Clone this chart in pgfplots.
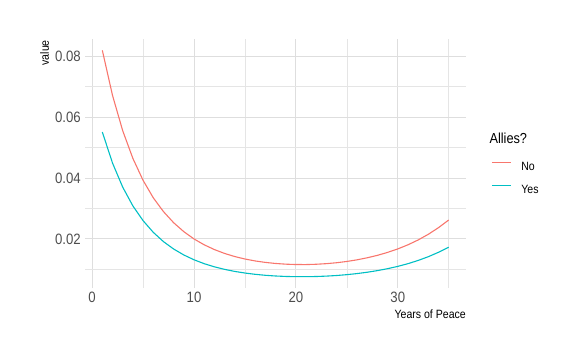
\documentclass[border=0pt]{standalone}
\usepackage{pgfplots}
\pgfplotsset{compat=1.18}
\usepackage{fontspec}
\setmainfont{Liberation Sans}[FakeStretch=0.88]
\definecolor{cNo}{HTML}{F8766D}
\definecolor{cYes}{HTML}{00BFC4}
\definecolor{tick}{HTML}{4D4D4D}
\pgfplotstableread{
t no yes
1 0.08189 0.05508
2 0.06710 0.04490
3 0.05552 0.03700
4 0.04642 0.03083
5 0.03923 0.02600
6 0.03351 0.02217
7 0.02897 0.01912
8 0.02532 0.01669
9 0.02238 0.01474
10 0.01999 0.01316
11 0.01807 0.01188
12 0.01651 0.01085
13 0.01524 0.01002
14 0.01422 0.00934
15 0.01341 0.00881
16 0.01278 0.00839
17 0.01230 0.00807
18 0.01195 0.00784
19 0.01172 0.00769
20 0.01160 0.00761
21 0.01159 0.00761
22 0.01169 0.00767
23 0.01189 0.00780
24 0.01219 0.00800
25 0.01261 0.00828
26 0.01314 0.00863
27 0.01381 0.00907
28 0.01461 0.00960
29 0.01558 0.01024
30 0.01672 0.01099
31 0.01807 0.01188
32 0.01966 0.01294
33 0.02152 0.01417
34 0.02370 0.01562
35 0.02621 0.01729
}\data
\begin{document}
\begin{tikzpicture}[x=1pt,y=1pt]
\useasboundingbox (0,0) rectangle (585,361);
\begin{axis}[
  at={(85pt,73pt)}, anchor=south west,
  scale only axis, width=381pt, height=249pt,
  xmin=-0.7, xmax=36.7, ymin=0.0039, ymax=0.0856,
  clip=false,
  axis line style={draw=none},
  major tick length=0pt, minor tick length=0pt,
  xtick={0,10,20,30}, minor xtick={5,15,25,35},
  ytick={0.02,0.04,0.06,0.08}, minor ytick={0.01,0.03,0.05,0.07},
  scaled y ticks=false,
  grid=both,
  major grid style={color=gray!26, line width=0.9pt},
  minor grid style={color=gray!20, line width=0.5pt},
  yticklabel style={/pgf/number format/fixed, /pgf/number format/precision=2, /pgf/number format/fixed zerofill},
  /pgf/number format/assume math mode=true,
  ticklabel style={font=\fontsize{15}{15}\selectfont, text=tick, inner sep=0pt},
  yticklabel style={xshift=-4pt},
  xticklabel style={yshift=-3.7pt},
  legend style={at={(1,0)}, anchor=north west, xshift=25pt, yshift=126pt,
    draw=none, fill=none, inner sep=0pt, font=\fontsize{12}{12}\selectfont,
    row sep=14pt, nodes={inner sep=0pt, text height=8.5pt, text depth=0pt},
    /tikz/every odd column/.style={column sep=10pt}},
  legend cell align=left,
  legend image code/.code={\draw[#1] (0pt,3.5pt) -- (19pt,3.5pt);},
]
\addplot[cNo, line width=1.1pt] table[x=t, y=no] {\data};
\addlegendentry{No}
\addplot[cYes, line width=1.1pt] table[x=t, y=yes] {\data};
\addlegendentry{Yes}
\node[rotate=90, anchor=east, inner sep=0pt, font=\fontsize{12}{12}\selectfont] at ([xshift=-40.5pt, yshift=-1pt]rel axis cs:0,1) {value};
\node[anchor=north east, inner sep=0pt, font=\fontsize{12}{12}\selectfont] at ([yshift=-22pt]rel axis cs:1,0) {Years of Peace};
\node[anchor=base west, inner sep=0pt, font=\fontsize{14.5}{14.5}\selectfont] at ([xshift=23.3pt, yshift=144.7pt]rel axis cs:1,0) {Allies?};
\end{axis}
\end{tikzpicture}
\end{document}
